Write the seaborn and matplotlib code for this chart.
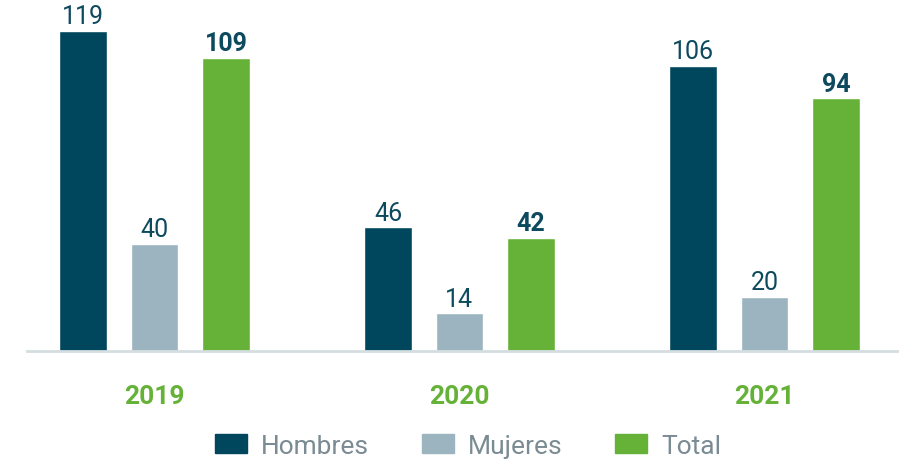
import pandas as pd
import matplotlib.pyplot as plt
import seaborn as sns

# data
years = ['2019', '2020', '2021']
hombres = [119, 46, 106]
mujeres = [40, 14, 20]
total = [109, 42, 94]
series = ['Hombres', 'Mujeres', 'Total']

df = pd.DataFrame({
    'year': years * 3,
    'serie': [s for s in series for _ in years],
    'value': hombres + mujeres + total,
})

colors = {'Hombres': '#00465c', 'Mujeres': '#9bb4bf', 'Total': '#66b238'}
dark = '#0d4a5e'

sns.set_theme(style="white")
plt.rcParams['font.family'] = ['Roboto', 'DejaVu Sans']

fig = plt.figure(figsize=(8.99, 4.64), dpi=100)
ax = fig.add_axes([27 / 899, 112 / 464, 872 / 899, 352 / 464])

sns.barplot(data=df, x='year', y='value', hue='serie', palette=colors,
            width=0.703, gap=0.33, ax=ax, legend=False, saturation=1)

# value labels
for cont, s in zip(ax.containers, series):
    ax.bar_label(cont, fmt='%d', padding=2, fontsize=18, color=dark,
                 fontweight='bold' if s == 'Total' else 'normal')

ax.set_xlim(-0.418, 2.441)
ax.set_ylim(0, 131)
ax.set_xlabel('')
ax.set_ylabel('')
ax.set_yticks([])
ax.tick_params(axis='x', length=0, pad=24)
for lab in ax.get_xticklabels():
    lab.set_color('#66b238')
    lab.set_fontweight('bold')
    lab.set_fontsize(19)

for side in ['top', 'right', 'left']:
    ax.spines[side].set_visible(False)
ax.spines['bottom'].set_color('#d4dde0')
ax.spines['bottom'].set_linewidth(2)

# legend
handles = [plt.Rectangle((0, 0), 1, 1, color=colors[s]) for s in series]
fig.legend(handles, series, loc='center', bbox_to_anchor=(468 / 899, 1 - 447 / 464),
           ncol=3, frameon=False, fontsize=19, labelcolor='#7a8b93',
           handlelength=1.21, handleheight=0.72, handletextpad=0.53,
           columnspacing=2.0, borderpad=0)

fig.savefig('out.png', dpi=100)
